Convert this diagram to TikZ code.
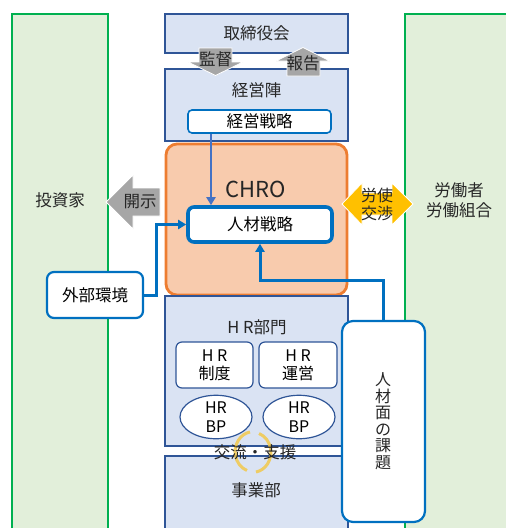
\documentclass[tikz,border=0pt]{standalone}
\usepackage{fontspec}
\setmainfont{Noto Sans CJK JP}
\usetikzlibrary{arrows.meta,shapes.geometric,calc}
\definecolor{bfill}{HTML}{DAE3F3}
\definecolor{bline}{HTML}{2F5597}
\definecolor{gfill}{HTML}{E2EFDA}
\definecolor{gline}{HTML}{00B050}
\definecolor{ofill}{HTML}{F8CBAD}
\definecolor{oline}{HTML}{ED7D31}
\definecolor{blu}{HTML}{0070C0}
\definecolor{blu2}{HTML}{4472C4}
\definecolor{gry}{HTML}{A6A6A6}
\definecolor{yel}{HTML}{FFC000}
\definecolor{yel2}{HTML}{F2C84B}
\definecolor{txt}{HTML}{262626}
\tikzset{
  greenbox/.style={draw=gline,line width=1.6pt,fill=gfill},
  bluebox/.style={draw=bline,line width=1.3pt,fill=bfill,inner sep=0pt},
  whitebox/.style={draw=blu,line width=2.2pt,fill=white,rounded corners=7pt,inner sep=0pt,align=center},
  subbox/.style={draw=bline,line width=1.2pt,fill=white,rounded corners=6pt,inner sep=0pt,align=center,font=\fontsize{16}{18}\selectfont},
  bpell/.style={ellipse,draw=bline,line width=1.2pt,fill=white,inner sep=0pt,align=center,font=\fontsize{16}{19}\selectfont},
  lbl/.style={inner sep=0pt,text=txt,font=\fontsize{16.5}{20}\selectfont,align=center},
  conn/.style={draw=blu,line width=3pt,-{Triangle[length=8pt,width=9pt]}},
  greyarrow/.style={fill=gry,draw=white,line width=0.8pt},
}
\begin{document}
\begin{tikzpicture}[x=1pt,y=-1pt]
\useasboundingbox (0,0) rectangle (506,528);
\clip (0,0) rectangle (506,528);
% side panels
\draw[greenbox] (12,14) rectangle (108,545);
\draw[greenbox] (405,14) rectangle (530,545);
\node[lbl] (inv) at (60,200) {投資家};
\node[lbl] (lab) at (459,200) {労働者\\労働組合};
% board
\node[bluebox,minimum width=183,minimum height=39] (board) at (256.5,33.5) {};
\node[lbl] (boardt) at (256.5,33) {取締役会};
% management
\node[bluebox,minimum width=183,minimum height=72] (mgmt) at (256.5,105) {};
\node[lbl] (mgmtt) at (256.5,90) {経営陣};
\node[whitebox,line width=1.6pt,rounded corners=4pt,minimum width=143,minimum height=23,font=\fontsize{16.5}{18}\selectfont] (strat) at (259.5,121.5) {経営戦略};
% grey arrows
\filldraw[greyarrow] (199,48) -- (232,48) -- (232,62) -- (243,62) -- (215.5,75.5) -- (188,62) -- (199,62) -- cycle;
\node[lbl] (kan) at (215.5,59) {監督};
\filldraw[greyarrow] (303,47.5) -- (330,61) -- (320,61) -- (320,76) -- (287,76) -- (287,61) -- (276,61) -- cycle;
\node[lbl] (hou) at (303,63) {報告};
% CHRO
\node[draw=oline,line width=2.8pt,fill=ofill,rounded corners=11pt,minimum width=181,minimum height=151,inner sep=0pt] (chro) at (256.5,219.5) {};
\node[inner sep=0pt,text=txt,font=\fontsize{22}{26}\selectfont] (chrot) at (256,189) {CHRO};
\node[whitebox,line width=3.6pt,rounded corners=6pt,minimum width=144,minimum height=35,font=\fontsize{16.5}{18}\selectfont] (jz) at (260,224.5) {人材戦略};
% HR dept
\node[bluebox,minimum width=183,minimum height=150] (hr) at (256.5,371) {};
\node[lbl] (hrt) at (257,327) {H R部門};
\node[subbox,minimum width=77,minimum height=46] (hr1) at (214.5,365) {H R\\制度};
\node[subbox,minimum width=78,minimum height=46] (hr2) at (298,365) {H R\\運営};
\node[bpell,minimum width=72,minimum height=42] (bp1) at (216,417) {HR\\BP};
\node[bpell,minimum width=72,minimum height=42] (bp2) at (299,417) {HR\\BP};
% business unit
\node[bluebox,minimum width=183,minimum height=90] (bu) at (256.5,501) {};
\node[lbl] (but) at (256,490) {事業部};
% exchange circle
\coordinate (cc) at (253,452);
\draw[yel2,line width=3pt,opacity=0.85] ($(cc)+(-3,-20)$) arc[start angle=-100,end angle=-250,x radius=18,y radius=20];
\draw[yel2,line width=3pt,opacity=0.85] ($(cc)+(3,20)$) arc[start angle=80,end angle=-70,x radius=18,y radius=20];
\node[lbl] (kou) at (255,452) {交流・支援};
% disclosure arrow
\filldraw[greyarrow] (106,202) -- (133,175) -- (133,188) -- (160,188) -- (160,216) -- (133,216) -- (133,229) -- cycle;
\node[lbl] (kai) at (140,202) {開示};
% labour negotiation arrow
\filldraw[fill=yel,draw=white,line width=0.8pt] (342,204) -- (362,183) -- (362,193) -- (392,193) -- (392,183) -- (413,204) -- (392,225) -- (392,215) -- (362,215) -- (362,225) -- cycle;
\node[inner sep=0pt,text=txt,font=\fontsize{16}{18}\selectfont,align=center] (rou) at (377,204) {労使\\交渉};
% external env
\node[whitebox,minimum width=96,minimum height=46,font=\fontsize{16.5}{18}\selectfont] (ext) at (95,295) {外部環境};
% issues
\node[whitebox,rounded corners=11pt,minimum width=83,minimum height=201] (iss) at (383.5,421.5) {};
\node[inner sep=0pt,text=txt,font=\fontsize{16}{16.5}\selectfont,align=center] (isst) at (383,421) {人\\材\\面\\の\\課\\題};
% connectors
\coordinate (c1) at (211,0);
\draw[draw=blu2,line width=2.5pt,-{Triangle[length=8pt,width=9pt]}] (strat.south -| c1) -- (jz.north -| c1);
\draw[conn] (ext.east) -- ++(12,0) |- (jz.west);
\draw[conn] (iss.north) -- ++(0,-39) -| (jz.south);
\end{tikzpicture}
\end{document}
